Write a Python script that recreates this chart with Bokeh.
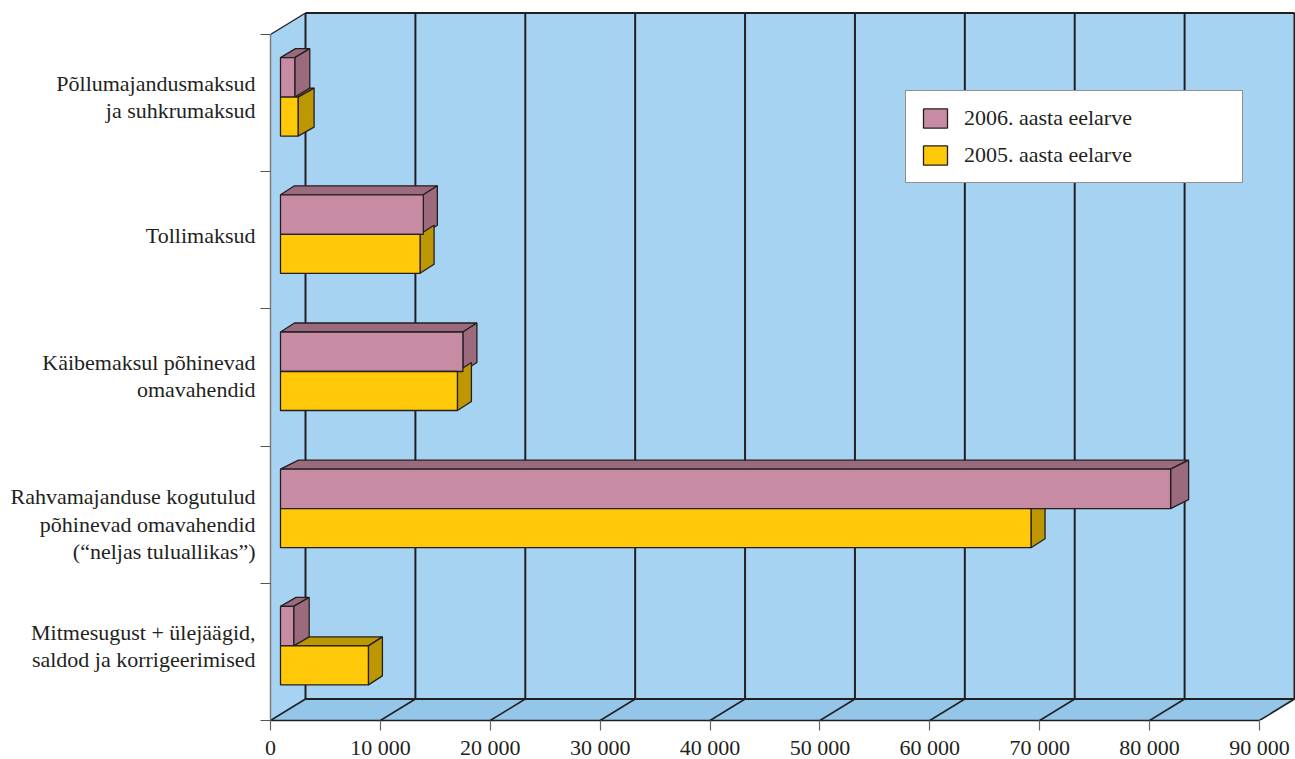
from bokeh.embed import file_html
from bokeh.resources import INLINE
from bokeh.models import (ColumnDataSource, FixedTicker, Legend, LegendItem, Range1d)
from bokeh.plotting import figure

categories = ["Põllumajandusmaksud\nja suhkrumaksud", "Tollimaksud",
              "Käibemaksul põhinevad\nomavahendid",
              "Rahvamajanduse kogutulud\npõhinevad omavahendid\n(“neljas tuluallikas”)",
              "Mitmesugust + ülejäägid,\nsaldod ja korrigeerimised"]
budget_2006 = [1300, 13000, 16600, 81000, 1200]
budget_2005 = [1600, 12700, 16100, 68300, 8000]
x_ticks = [0, 10000, 20000, 30000, 40000, 50000, 60000, 70000, 80000, 90000]
x_labels = ["0", "10 000", "20 000", "30 000", "40 000", "50 000", "60 000", "70 000", "80 000", "90 000"]
series_names = ["2006. aasta eelarve", "2005. aasta eelarve"]

# layout constants (pixels on the page)
FRAME_L, FRAME_R, FRAME_T, FRAME_B = 270, 1295, 10, 720
XS = 989 / 90000          # px per value unit
YS = 137.2                # px per band
DEPTH_X, DEPTH_Y = 35 / XS, 21.5 / YS
BAR_X0 = 10 / XS
BAR_H = 39.5 / YS
BAR_H_LOW = 39 / YS
BAR_SHIFT = 6 / YS
LABEL_SHIFT_PX = [6, 5, 1.5, -9.5, 6]
DX_2006 = [15, 14, 14, 18, 15.5]
DX_2005 = [16, 14, 14, 14, 14]
BAR_DY = 9 / YS

INK = "#231f20"
WALL, FLOOR = "#a7d3f3", "#94c6ea"
ROSE, ROSE_D = "#c78ca3", "#9b6b7d"
GOLD, GOLD_D = "#ffc808", "#bd9702"
FONT = "Liberation Serif"
FSIZE = "22px"

n = len(categories)
centers = [n - 0.5 - i for i in range(n)]
x_end = (FRAME_R - FRAME_L) / XS
y_top = (FRAME_B - FRAME_T) / YS

p = figure(width=FRAME_R, height=759, output_backend="svg", toolbar_location=None,
           x_range=Range1d(0, x_end), y_range=Range1d(0, y_top),
           frame_width=FRAME_R - FRAME_L, frame_height=FRAME_B - FRAME_T,
           min_border_left=FRAME_L, min_border_right=0, min_border_top=FRAME_T,
           min_border_bottom=759 - FRAME_B,
           outline_line_color=None, background_fill_color="white",
           styles={"position": "absolute", "left": "0px", "top": "0px"})
p.grid.visible = False

# walls and floor
p.patch([0, DEPTH_X, DEPTH_X, 0], [0, DEPTH_Y, n + DEPTH_Y, n], fill_color=WALL, line_color=None)
p.quad(left=DEPTH_X, right=90000 + DEPTH_X, bottom=DEPTH_Y, top=n + DEPTH_Y, fill_color=WALL, line_color=None)
p.patch([0, DEPTH_X, 90000 + DEPTH_X, 90000], [0, DEPTH_Y, DEPTH_Y, 0], fill_color=FLOOR, line_color=None)

back_x = [t + DEPTH_X for t in x_ticks]
p.segment(back_x, [DEPTH_Y] * 10, back_x, [n + DEPTH_Y] * 10, line_color=INK, line_width=2)
p.segment(x_ticks, [0] * 10, back_x, [DEPTH_Y] * 10, line_color=INK, line_width=1.6)
p.segment([DEPTH_X, DEPTH_X], [DEPTH_Y, n + DEPTH_Y], [90000 + DEPTH_X] * 2, [DEPTH_Y, n + DEPTH_Y],
          line_color=INK, line_width=2)
p.segment([0], [n], [DEPTH_X], [n + DEPTH_Y], line_color=INK, line_width=1.4)


def top_faces(values, mids, dxs):
    xs, ys = [], []
    for v, y, d in zip(values, mids, dxs):
        a, b = BAR_X0, BAR_X0 + v
        dv = d / XS
        xs.append([a, b, b + dv, a + dv])
        ys.append([y, y, y + BAR_DY, y + BAR_DY])
    return xs, ys


def side_faces(values, y0s, y1s, dxs):
    xs, ys = [], []
    for v, y0, y1, d in zip(values, y0s, y1s, dxs):
        b = BAR_X0 + v
        dv = d / XS
        xs.append([b, b + dv, b + dv, b])
        ys.append([y0, y0 + BAR_DY, y1 + BAR_DY, y1])
    return xs, ys


mid = [c + BAR_SHIFT for c in centers]
rose_top = [m + BAR_H for m in mid]
gold_bot = [m - BAR_H_LOW for m in mid]

lw = 1.3
xs, ys = top_faces(budget_2005, mid, DX_2005)
p.patches(xs, ys, fill_color=GOLD_D, line_color=INK, line_width=lw)
xs, ys = top_faces(budget_2006, rose_top, DX_2006)
p.patches(xs, ys, fill_color=ROSE_D, line_color=INK, line_width=lw)
xs, ys = side_faces(budget_2006, mid, rose_top, DX_2006)
p.patches(xs, ys, fill_color=ROSE_D, line_color=INK, line_width=lw)
xs, ys = side_faces(budget_2005, gold_bot, mid, DX_2005)
p.patches(xs, ys, fill_color=GOLD_D, line_color=INK, line_width=lw)

src_2006 = ColumnDataSource(dict(l=[BAR_X0] * n, r=[BAR_X0 + v for v in budget_2006], b=mid, t=rose_top))
src_2005 = ColumnDataSource(dict(l=[BAR_X0] * n, r=[BAR_X0 + v for v in budget_2005], b=gold_bot, t=mid))
r06 = p.quad(left="l", right="r", bottom="b", top="t", source=src_2006, fill_color=ROSE, line_color=INK, line_width=lw)
r05 = p.quad(left="l", right="r", bottom="b", top="t", source=src_2005, fill_color=GOLD, line_color=INK, line_width=lw)

# axes
xa = p.xaxis[0]
xa.ticker = FixedTicker(ticks=x_ticks)
xa.major_label_overrides = {t: s for t, s in zip(x_ticks, x_labels)}
xa.bounds = (0, 90000)
xa.axis_line_color = INK
xa.axis_line_width = 1.4
xa.major_tick_line_color = "#666666"
xa.major_tick_line_width = 1.2
xa.major_tick_in = 0
xa.major_tick_out = 10
xa.minor_tick_in = 0
xa.minor_tick_out = 0
xa.major_label_standoff = 4
xa.major_label_text_font = FONT
xa.major_label_text_font_size = FSIZE
xa.major_label_text_color = INK

ya = p.yaxis[0]
label_pos = [c + s / YS for c, s in zip(centers, LABEL_SHIFT_PX)]
ya.ticker = FixedTicker(ticks=label_pos, minor_ticks=list(range(n + 1)))
ya.major_label_overrides = {t: s for t, s in zip(label_pos, categories)}
ya.bounds = (0, n)
ya.axis_line_color = "#777777"
ya.axis_line_width = 1.4
ya.major_tick_in = 0
ya.major_tick_out = 0
ya.minor_tick_in = 0
ya.minor_tick_out = 10
ya.minor_tick_line_color = "#555555"
ya.minor_tick_line_width = 1.2
ya.major_label_standoff = 5
ya.major_label_text_font = FONT
ya.major_label_text_font_size = FSIZE
ya.major_label_text_color = INK
ya.major_label_text_line_height = 1.1

legend = Legend(items=[LegendItem(label=series_names[0], renderers=[r06]),
                       LegendItem(label=series_names[1], renderers=[r05])],
                location=(905 - FRAME_L, FRAME_B - 183), orientation="vertical",
                glyph_width=30, glyph_height=24, label_height=24, label_width=264,
                label_standoff=14, spacing=11, padding=14, margin=0,
                label_text_font=FONT, label_text_font_size=FSIZE, label_text_color=INK,
                background_fill_color="white", background_fill_alpha=1,
                border_line_color=INK, border_line_width=1.4)
p.add_layout(legend)

open("out.html", "w").write(file_html(p, INLINE))
